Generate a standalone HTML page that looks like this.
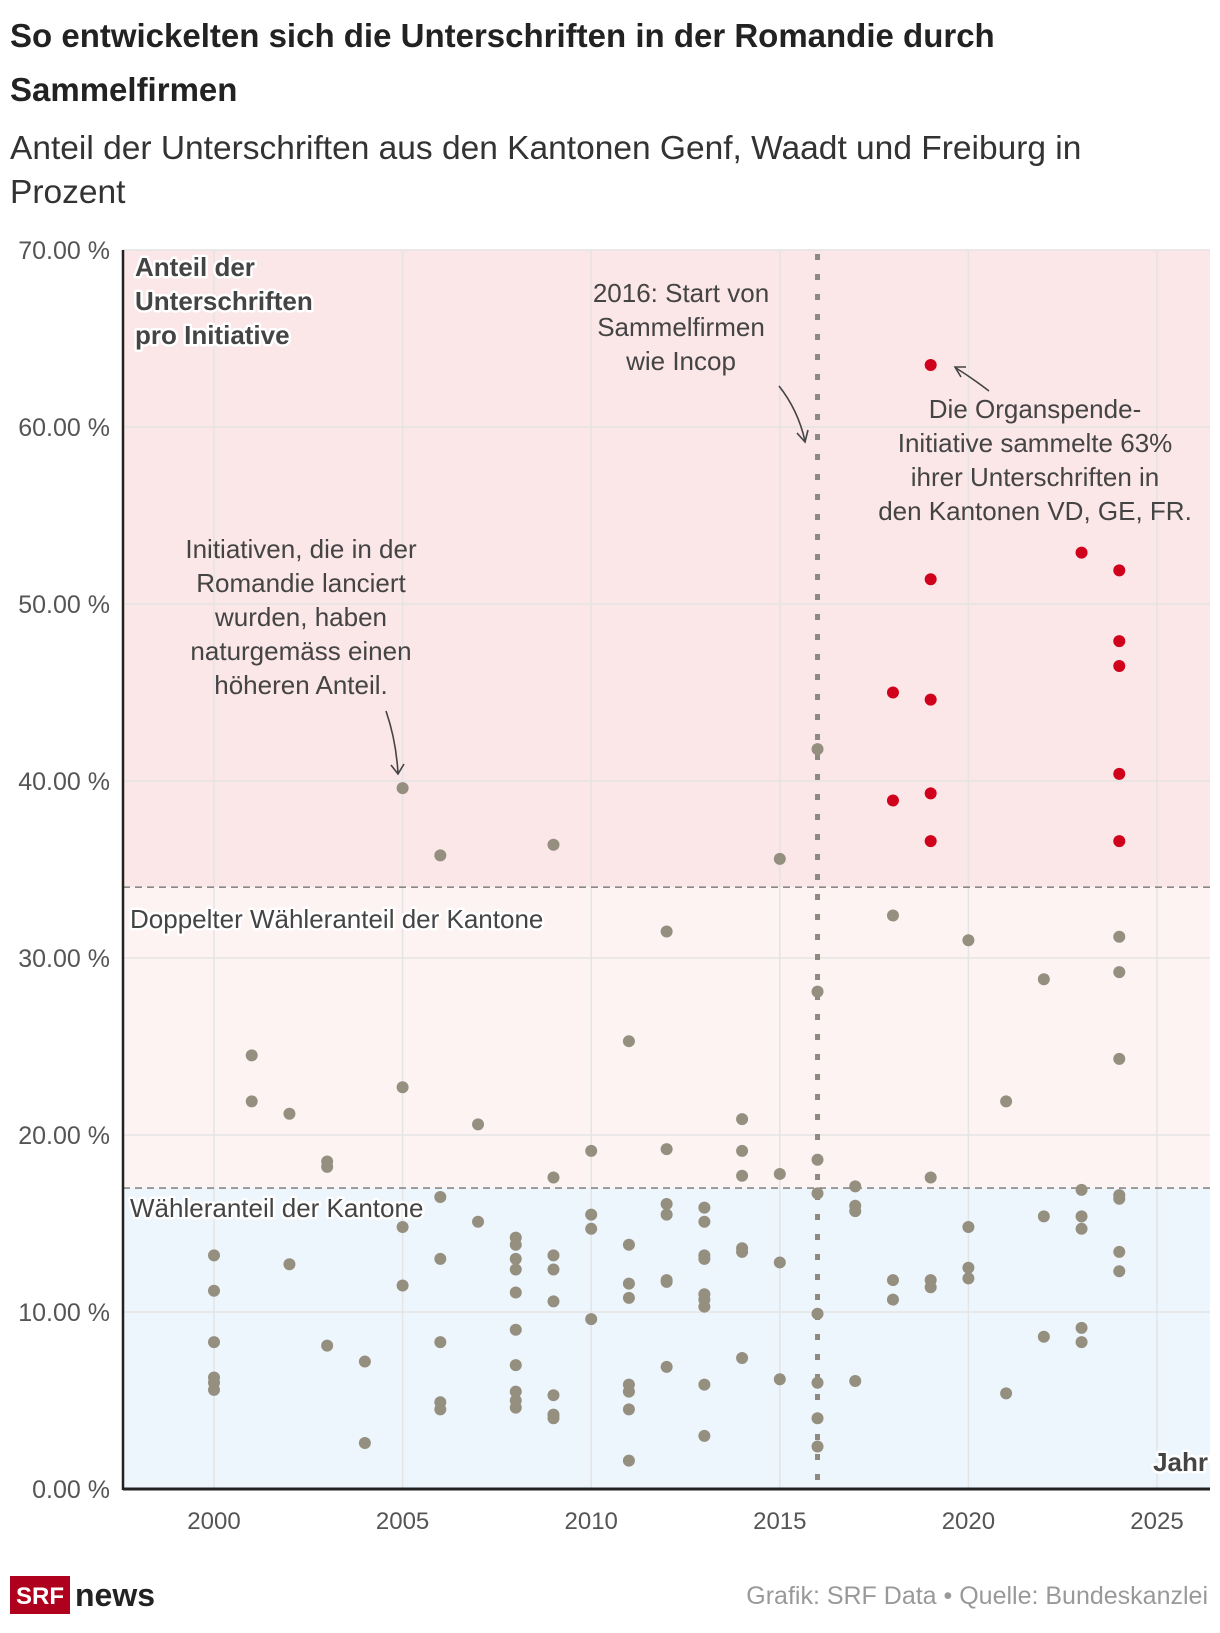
<!DOCTYPE html>
<html><head><meta charset="utf-8">
<style>
html,body{margin:0;padding:0;background:#fff;}
body{width:1220px;height:1628px;overflow:hidden;font-family:"Liberation Sans","DejaVu Sans",sans-serif;}
svg text{font-family:"Liberation Sans","DejaVu Sans",sans-serif;}
.halo{paint-order:stroke;stroke:#fff;stroke-width:5px;stroke-linejoin:round;}
</style></head>
<body>
<svg id="chart" width="1220" height="1628" viewBox="0 0 1220 1628" xmlns="http://www.w3.org/2000/svg">
  <text x="10" y="47" font-size="33" font-weight="bold" fill="#222">So entwickelten sich die Unterschriften in der Romandie durch</text>
  <text x="10" y="101" font-size="33" font-weight="bold" fill="#222">Sammelfirmen</text>
  <text x="10" y="159" font-size="33.5" fill="#333">Anteil der Unterschriften aus den Kantonen Genf, Waadt und Freiburg in</text>
  <text x="10" y="203" font-size="33.5" fill="#333">Prozent</text>

  <g id="bands"></g>
  <g id="grid"></g>
  <g id="refs"></g>
  <g id="axes"></g>
  <g id="dots"></g>

  <g fill="#444" font-size="26">
    <text class="halo" x="135" y="276" font-weight="bold">Anteil der</text>
    <text class="halo" x="135" y="310" font-weight="bold">Unterschriften</text>
    <text class="halo" x="135" y="344" font-weight="bold">pro Initiative</text>

    <g text-anchor="middle">
      <text x="681" y="302">2016: Start von</text>
      <text x="681" y="336">Sammelfirmen</text>
      <text x="681" y="370">wie Incop</text>
    </g>
    <g text-anchor="middle">
      <text x="1035" y="418">Die Organspende-</text>
      <text x="1035" y="452">Initiative sammelte 63%</text>
      <text x="1035" y="486">ihrer Unterschriften in</text>
      <text x="1035" y="520">den Kantonen VD, GE, FR.</text>
    </g>
    <g text-anchor="middle">
      <text x="301" y="558">Initiativen, die in der</text>
      <text x="301" y="592">Romandie lanciert</text>
      <text x="301" y="626">wurden, haben</text>
      <text x="301" y="660">naturgemäss einen</text>
      <text x="301" y="694">höheren Anteil.</text>
    </g>
    <g fill="none" stroke="#444" stroke-width="1.6">
      <path d="M779,386 Q798,410 805,441"/><path d="M797,433 L805,442 L808,430"/>
      <path d="M989,391 Q972,378 956,368"/><path d="M966,367 L955,367 L961,377"/>
      <path d="M386,711 Q396,740 398,773"/><path d="M391,765 L398,774 L404,764"/>
    </g>
    <text class="halo" x="130" y="928">Doppelter Wähleranteil der Kantone</text>
    <text class="halo" x="130" y="1217">Wähleranteil der Kantone</text>
    <text class="halo" x="1208" y="1471" text-anchor="end" font-weight="bold">Jahr</text>
  </g>

  <g>
    <rect x="10" y="1576" width="60" height="38" fill="#af001d"/>
    <text x="40" y="1604" text-anchor="middle" font-size="24" font-weight="bold" fill="#fff">SRF</text>
    <text x="75" y="1606" font-size="32" font-weight="bold" fill="#222">news</text>
  </g>
  <text x="1208" y="1604" text-anchor="end" font-size="25" fill="#999">Grafik: SRF Data • Quelle: Bundeskanzlei</text>
</svg>
<script>
const years = [2000,2000,2000,2000,2000,2000,2001,2001,2002,2002,2003,2003,2003,2004,2004,2005,2005,2005,2005,2006,2006,2006,2006,2006,2006,2007,2007,2008,2008,2008,2008,2008,2008,2008,2008,2008,2008,2009,2009,2009,2009,2009,2009,2009,2009,2010,2010,2010,2010,2011,2011,2011,2011,2011,2011,2011,2011,2012,2012,2012,2012,2012,2012,2012,2013,2013,2013,2013,2013,2013,2013,2013,2013,2014,2014,2014,2014,2014,2014,2015,2015,2015,2015,2016,2016,2016,2016,2016,2016,2016,2016,2017,2017,2017,2017,2018,2018,2018,2019,2019,2019,2020,2020,2020,2020,2021,2021,2022,2022,2022,2023,2023,2023,2023,2023,2024,2024,2024,2024,2024,2024,2024];
const values = [13.2,11.2,8.3,6.3,6.0,5.6,24.5,21.9,21.2,12.7,18.5,18.2,8.1,7.2,2.6,39.6,22.7,14.8,11.5,35.8,16.5,13.0,8.3,4.9,4.5,20.6,15.1,14.2,13.8,13.0,12.4,11.1,9.0,7.0,5.5,5.0,4.6,36.4,17.6,13.2,12.4,10.6,5.3,4.2,4.0,19.1,15.5,14.7,9.6,25.3,13.8,11.6,10.8,5.9,5.5,4.5,1.6,31.5,19.2,16.1,15.5,11.8,11.7,6.9,15.9,15.1,13.2,13.0,11.0,10.7,10.3,5.9,3.0,20.9,19.1,17.7,13.6,13.4,7.4,35.6,17.8,12.8,6.2,41.8,28.1,18.6,16.7,9.9,6.0,4.0,2.4,17.1,16.0,15.7,6.1,32.4,11.8,10.7,17.6,11.8,11.4,31.0,14.8,12.5,11.9,21.9,5.4,28.8,15.4,8.6,16.9,15.4,14.7,9.1,8.3,31.2,29.2,24.3,16.6,16.4,13.4,12.3];
const redYears = [2018,2018,2019,2019,2019,2019,2019,2023,2024,2024,2024,2024,2024];
const redValues = [45.0,38.9,63.5,51.4,44.6,39.3,36.6,52.9,51.9,47.9,46.5,40.4,36.6];
const xTicks = [2000,2005,2010,2015,2020,2025];
const yTicks = [0,10,20,30,40,50,60,70];
const yTickLabels = ["0.00 %","10.00 %","20.00 %","30.00 %","40.00 %","50.00 %","60.00 %","70.00 %"];
const voterShare = 17;
const doubleVoterShare = 34;
const startYear = 2016;

const L=123, R=1210, T=250, B=1489;
const x = yr => 214 + (yr-2000)*37.72;
const y = v => B - v*(B-T)/70;
const NS="http://www.w3.org/2000/svg";
function mk(tag, attrs, parent){const e=document.createElementNS(NS,tag);for(const k in attrs)e.setAttribute(k,attrs[k]);parent.appendChild(e);return e;}

const bands=document.getElementById('bands');
let e;
e=mk('rect',{x:L,y:y(70),width:R-L,height:y(doubleVoterShare)-y(70),fill:'#fbe6e8'},bands);


e=mk('rect',{x:L,y:y(doubleVoterShare),width:R-L,height:y(voterShare)-y(doubleVoterShare),fill:'#fdf3f3'},bands);


e=mk('rect',{x:L,y:y(voterShare),width:R-L,height:y(0)-y(voterShare),fill:'#eef6fd'},bands);



const grid=document.getElementById('grid');
yTicks.forEach((v,i)=>{
  e=mk('line',{x1:L,x2:R,y1:y(v),y2:y(v),stroke:'#e4e4e4','stroke-width':1.5},grid);
  
  
  e=mk('text',{x:110,y:y(v)+9,'text-anchor':'end','font-size':25,fill:'#555'},grid);
  e.textContent=yTickLabels[i];
  
  
});
xTicks.forEach(t=>{
  e=mk('line',{x1:x(t),x2:x(t),y1:T,y2:B,stroke:'#e4e4e4','stroke-width':1.5},grid);
  
  
  e=mk('text',{x:x(t),y:1529,'text-anchor':'middle','font-size':24,fill:'#555'},grid);
  e.textContent=t;
  
  
});

const refs=document.getElementById('refs');
[doubleVoterShare,voterShare].forEach(v=>{
  e=mk('line',{x1:L,x2:R,y1:y(v),y2:y(v),stroke:'#888','stroke-width':1.6,'stroke-dasharray':'7 5'},refs);
  
  
});
e=mk('line',{x1:x(startYear),x2:x(startYear),y1:T+4,y2:B,stroke:'#8d8a82','stroke-width':5,'stroke-dasharray':'6 14'},refs);



const axes=document.getElementById('axes');
e=mk('line',{x1:L,x2:L,y1:T,y2:B+1,stroke:'#222','stroke-width':2.5},axes);


e=mk('line',{x1:L,x2:R,y1:B,y2:B,stroke:'#222','stroke-width':3},axes);



const dots=document.getElementById('dots');
years.forEach((yr,i)=>{
  e=mk('circle',{cx:x(yr),cy:y(values[i]),r:6,fill:'#958f80'},dots);
  
  
});
redYears.forEach((yr,i)=>{
  e=mk('circle',{cx:x(yr),cy:y(redValues[i]),r:6,fill:'#d0021b'},dots);
  
  
});
</script>
</body></html>
